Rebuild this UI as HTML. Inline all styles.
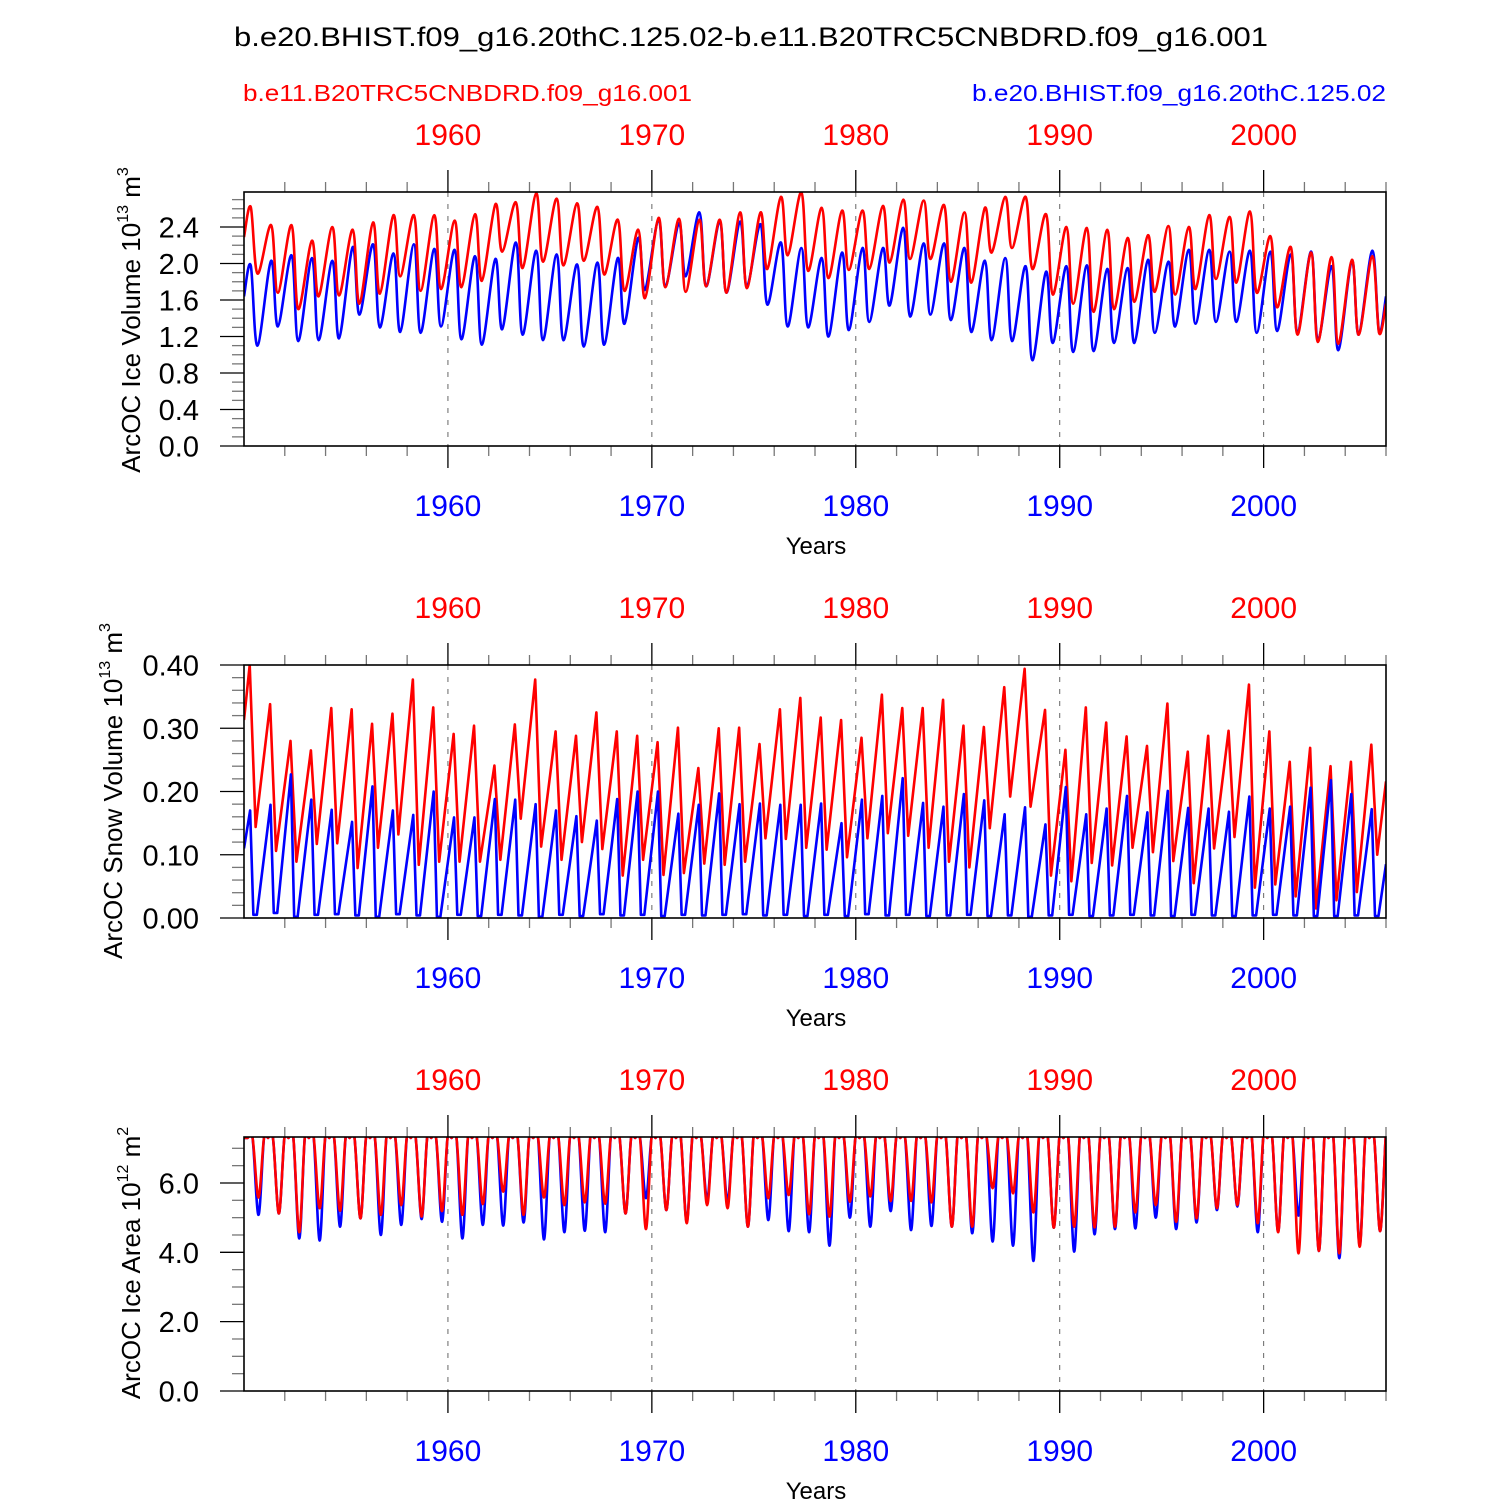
<!DOCTYPE html>
<html><head><meta charset="utf-8"><style>
html,body{margin:0;padding:0;background:#fff;}
svg{display:block;font-family:"Liberation Sans",Arial,sans-serif;}
</style></head><body>
<svg id="chart" width="1500" height="1500" viewBox="0 0 1500 1500" xmlns="http://www.w3.org/2000/svg">
<rect width="1500" height="1500" fill="#fff"/>
<text x="234" y="46" font-size="27" textLength="1034" lengthAdjust="spacingAndGlyphs">b.e20.BHIST.f09_g16.20thC.125.02-b.e11.B20TRC5CNBDRD.f09_g16.001</text>
<text x="243" y="101" font-size="23" fill="#ff0000" textLength="449" lengthAdjust="spacingAndGlyphs">b.e11.B20TRC5CNBDRD.f09_g16.001</text>
<text x="972" y="101" font-size="23" fill="#0000ff" textLength="414" lengthAdjust="spacingAndGlyphs">b.e20.BHIST.f09_g16.20thC.125.02</text>
<g id="panels"></g>
</svg>
<script>
// ---- data (yearly peak / trough values, 1950..2005) ----
const firstYear = 1950;
const lastYear = 2006;
const xMajorTicks = [1960, 1970, 1980, 1990, 2000];

const volRedPeak = [2.62,2.42,2.42,2.25,2.40,2.37,2.45,2.53,2.53,2.53,2.47,2.54,2.65,2.67,2.77,2.71,2.66,2.62,2.48,2.37,2.50,2.49,2.48,2.48,2.56,2.56,2.73,2.78,
2.61,2.58,2.58,2.63,2.70,2.69,2.64,2.56,2.61,2.73,2.73,2.54,2.40,2.39,2.37,2.28,2.31,2.41,2.40,2.53,2.51,2.57,2.30,2.18,2.12,2.07,2.04,2.08];
const volRedTrough = [1.89,1.68,1.50,1.64,1.65,1.56,1.67,1.86,1.70,1.72,1.74,1.81,2.13,1.95,2.02,1.98,2.03,1.88,1.70,1.62,1.74,1.69,1.75,1.68,1.73,1.94,2.09,1.92,
1.84,1.93,1.94,2.01,2.05,2.05,1.80,1.79,2.12,2.17,1.94,1.66,1.56,1.47,1.50,1.58,1.69,1.66,1.72,1.83,1.79,1.68,1.52,1.22,1.14,1.12,1.22,1.24];
const volBluePeak = [1.98,2.03,2.09,2.06,2.03,2.18,2.21,2.11,2.21,2.16,2.15,2.08,2.05,2.23,2.14,2.10,1.99,2.01,2.06,2.28,2.48,2.44,2.56,2.46,2.46,2.43,2.23,2.17,
2.06,2.12,2.17,2.17,2.39,2.22,2.22,2.17,2.03,2.06,1.97,1.91,1.97,1.98,1.94,1.95,2.04,2.02,2.15,2.15,2.13,2.14,2.13,2.10,2.13,1.97,2.03,2.14];
const volBlueTrough = [1.10,1.31,1.15,1.16,1.18,1.44,1.30,1.25,1.24,1.31,1.17,1.11,1.28,1.22,1.16,1.16,1.09,1.11,1.34,1.71,1.75,1.86,1.75,1.68,1.75,1.55,1.31,1.30,
1.20,1.27,1.36,1.54,1.42,1.44,1.38,1.25,1.16,1.15,0.94,1.13,1.03,1.04,1.13,1.13,1.24,1.31,1.34,1.36,1.36,1.24,1.26,1.24,1.16,1.05,1.22,1.25];
const volEnds = {redStart: 2.29, redEnd: 1.56, blueStart: 1.64, blueEnd: 1.64};

const snowRedPeak = [0.400,0.338,0.280,0.265,0.332,0.330,0.307,0.323,0.377,0.333,0.291,0.304,0.241,0.306,0.377,0.295,0.288,0.325,0.295,0.288,0.278,0.301,0.237,0.300,0.301,0.275,0.330,0.348,
0.317,0.313,0.285,0.353,0.332,0.332,0.345,0.304,0.302,0.365,0.394,0.329,0.266,0.333,0.309,0.287,0.272,0.339,0.263,0.288,0.296,0.369,0.295,0.247,0.269,0.240,0.247,0.274];
const snowRedTrough = [0.144,0.106,0.089,0.117,0.118,0.079,0.111,0.132,0.084,0.089,0.089,0.089,0.092,0.157,0.113,0.092,0.120,0.109,0.067,0.092,0.068,0.071,0.086,0.084,0.089,0.126,0.125,0.111,
0.108,0.096,0.126,0.134,0.130,0.111,0.089,0.080,0.142,0.192,0.176,0.067,0.058,0.087,0.083,0.111,0.104,0.090,0.055,0.110,0.128,0.048,0.053,0.034,0.015,0.028,0.041,0.100];
const snowBluePeak = [0.170,0.179,0.227,0.187,0.171,0.152,0.208,0.170,0.163,0.200,0.159,0.159,0.188,0.187,0.180,0.170,0.161,0.154,0.188,0.200,0.200,0.165,0.179,0.197,0.180,0.181,0.179,0.179,
0.181,0.150,0.187,0.193,0.221,0.182,0.176,0.196,0.186,0.164,0.175,0.148,0.207,0.164,0.173,0.193,0.167,0.201,0.174,0.173,0.168,0.192,0.173,0.176,0.206,0.218,0.196,0.172];
const snowBlueTrough = [0.005,0.008,0.002,0.005,0.006,0.004,0.002,0.006,0.004,0.002,0.005,0.003,0.005,0.004,0.002,0.005,0.003,0.006,0.004,0.005,0.003,0.005,0.004,0.005,0.006,0.004,0.005,0.003,
0.005,0.003,0.006,0.004,0.005,0.003,0.004,0.005,0.003,0.004,0.002,0.004,0.005,0.003,0.004,0.005,0.004,0.003,0.005,0.004,0.003,0.004,0.005,0.004,0.003,0.003,0.004,0.003];
const snowEnds = {redStart: 0.313, redEnd: 0.216, blueStart: 0.110, blueEnd: 0.085};

const areaPeak = [7.30,7.30,7.30,7.30,7.30,7.30,7.30,7.30,7.30,7.30,7.30,7.30,7.30,7.30,7.30,7.30,7.30,7.30,7.30,7.30,7.30,7.30,7.30,7.30,7.30,7.30,7.30,7.30,
7.30,7.30,7.30,7.30,7.30,7.30,7.30,7.30,7.30,7.30,7.30,7.30,7.30,7.30,7.30,7.30,7.30,7.30,7.30,7.30,7.30,7.30,7.30,7.30,7.30,7.30,7.30,7.30];
const areaBlueTrough = [5.08,5.12,4.40,4.34,4.74,4.98,4.50,4.79,4.96,4.88,4.40,4.79,4.77,4.86,4.37,4.58,4.62,4.58,5.12,5.56,5.22,4.88,5.51,5.46,4.74,4.93,4.61,4.58,
4.19,5.00,4.74,5.19,4.64,4.76,4.74,4.55,4.31,4.19,3.75,4.71,4.02,4.52,4.67,4.69,5.00,4.67,4.86,5.22,5.32,4.58,4.60,5.06,4.04,3.83,4.21,4.61];
const areaRedTrough = [5.58,5.12,4.58,5.27,5.20,4.98,5.08,5.36,5.03,5.19,5.08,5.39,5.75,5.08,5.58,5.36,5.44,5.40,5.12,4.67,5.22,4.84,5.36,5.27,4.74,5.56,5.65,5.10,
5.03,5.46,5.61,5.48,5.48,5.44,4.74,4.74,5.85,5.70,5.15,4.71,4.74,4.72,4.74,5.15,5.36,4.88,4.98,5.27,5.36,4.84,4.58,3.97,4.04,3.97,4.16,4.61];

// ---- layout ----
const X0 = 244, X1 = 1386;
function xScale(t){ return X0 + (t - firstYear) * (X1 - X0) / (lastYear - firstYear); }
const svgNS = "http://www.w3.org/2000/svg";
const root = document.getElementById('panels');
function mk(tag, attrs, parent){
  const e = document.createElementNS(svgNS, tag);
  for (const k in attrs) e.setAttribute(k, attrs[k]);
  (parent || root).appendChild(e);
  return e;
}
function catmull(pts){
  let d = "M" + pts[0][0].toFixed(2) + "," + pts[0][1].toFixed(2);
  for (let i = 0; i < pts.length - 1; i++){
    const p0 = pts[Math.max(0,i-1)], p1 = pts[i], p2 = pts[i+1], p3 = pts[Math.min(pts.length-1,i+2)];
    const c1x = p1[0] + (p2[0]-p0[0])/6, c1y = p1[1] + (p2[1]-p0[1])/6;
    const c2x = p2[0] - (p3[0]-p1[0])/6, c2y = p2[1] - (p3[1]-p1[1])/6;
    d += "C" + c1x.toFixed(2)+","+c1y.toFixed(2)+" "+c2x.toFixed(2)+","+c2y.toFixed(2)+" "+p2[0].toFixed(2)+","+p2[1].toFixed(2);
  }
  return d;
}
function linear(pts){
  return pts.map((p,i)=>(i?"L":"M")+p[0].toFixed(2)+","+p[1].toFixed(2)).join("");
}

function drawPanel(cfg){
  const yScale = v => cfg.bottom - (v - cfg.ymin) * (cfg.bottom - cfg.top) / (cfg.ymax - cfg.ymin);
  const g = mk('g', {});
  
  
  const clipId = cfg.name + '-clip';
  const cp = mk('clipPath', {id: clipId}, g);
  mk('rect', {x: X0, y: cfg.top, width: X1 - X0, height: cfg.bottom - cfg.top}, cp);
  xMajorTicks.forEach(yr => {
    const l = mk('line', {x1: xScale(yr), x2: xScale(yr), y1: cfg.top, y2: cfg.bottom, stroke: '#666', 'stroke-width': 1, 'stroke-dasharray': '5,7'}, g);
    
    
  });
  for (let yr = 1952; yr <= 2006; yr += 2){
    const major = yr % 10 === 0;
    const len = major ? 22 : 10;
    const x = xScale(yr);
    mk('line', {x1: x, x2: x, y1: cfg.top, y2: cfg.top - len, stroke: major ? '#000' : '#777', 'stroke-width': 1.3}, g);
    mk('line', {x1: x, x2: x, y1: cfg.bottom, y2: cfg.bottom + len, stroke: major ? '#000' : '#777', 'stroke-width': 1.3}, g);
  }
  const nMinor = Math.round((cfg.ymax - cfg.ymin) / cfg.minor);
  for (let i = 0; i <= nMinor; i++){
    const v = cfg.ymin + i * cfg.minor;
    if (v > cfg.ymax + 1e-9) break;
    const isMajor = Math.abs(v / cfg.major - Math.round(v / cfg.major)) < 1e-6;
    const y = yScale(v);
    mk('line', {x1: X0, x2: X0 - (isMajor ? 24 : 12), y1: y, y2: y, stroke: isMajor ? '#000' : '#777', 'stroke-width': 1.3}, g);
    if (isMajor){
      const t = mk('text', {x: 199, y: y + 10.5, 'font-size': 29, 'text-anchor': 'end'}, g);
      
      
      t.textContent = v.toFixed(cfg.digits);
    }
  }
  xMajorTicks.forEach(yr => {
    const t1 = mk('text', {x: xScale(yr), y: cfg.top - 47, 'font-size': 30, 'text-anchor': 'middle', fill: '#ff0000'}, g);
    
    
    t1.textContent = yr;
    const t2 = mk('text', {x: xScale(yr), y: cfg.bottom + 70, 'font-size': 30, 'text-anchor': 'middle', fill: '#0000ff'}, g);
    
    
    t2.textContent = yr;
  });
  const xt = mk('text', {x: 816, y: cfg.bottom + 108, 'font-size': 24, 'text-anchor': 'middle'}, g);
  
  
  xt.textContent = 'Years';
  const yt = mk('text', {transform: 'translate(' + cfg.titleX + ',' + cfg.titleY + ') rotate(-90)', 'font-size': 26, 'text-anchor': 'middle'}, g);
  
  
  const a = mk('tspan', {}, yt); a.textContent = cfg.title + ' 10';
  const b = mk('tspan', {dy: -12, 'font-size': 16}, yt); b.textContent = cfg.exp;
  const c = mk('tspan', {dy: 12}, yt); c.textContent = ' m';
  const d = mk('tspan', {dy: -12, 'font-size': 16}, yt); d.textContent = cfg.unitExp;
  cfg.series.forEach(s => {
    const pts = s.anchors().map(p => [xScale(p[0]), yScale(p[1])]);
    const path = mk('path', {d: s.smooth ? catmull(pts) : linear(pts), fill: 'none', stroke: s.color, 'stroke-width': 2.6, 'stroke-linejoin': 'round', 'clip-path': 'url(#' + clipId + ')'}, g);
    
    
  });
  const fr = mk('rect', {x: X0, y: cfg.top, width: X1 - X0, height: cfg.bottom - cfg.top, fill: 'none', stroke: '#000', 'stroke-width': 1.6}, g);
  
  
}

function volAnchors(peak, trough, start, end){
  const a = [[firstYear, start]];
  for (let i = 0; i < peak.length; i++){
    const y = firstYear + i;
    a.push([y + 0.33, peak[i]]);
    a.push([y + 0.66, trough[i]]);
  }
  a.push([lastYear, end]);
  return a;
}
function snowRedAnchors(){
  const a = [[firstYear, snowEnds.redStart]];
  for (let i = 0; i < snowRedPeak.length; i++){
    const y = firstYear + i;
    a.push([y + 0.28, snowRedPeak[i]]);
    a.push([y + 0.57, snowRedTrough[i]]);
  }
  a.push([lastYear, snowEnds.redEnd]);
  return a;
}
function snowBlueAnchors(){
  const a = [[firstYear, snowEnds.blueStart]];
  for (let i = 0; i < snowBluePeak.length; i++){
    const y = firstYear + i;
    a.push([y + 0.30, snowBluePeak[i]]);
    a.push([y + 0.46, snowBlueTrough[i]]);
    a.push([y + 0.63, snowBlueTrough[i]]);
  }
  a.push([lastYear, snowEnds.blueEnd]);
  return a;
}
function areaAnchors(trough){
  const a = [[firstYear, areaPeak[0]]];
  for (let i = 0; i < trough.length; i++){
    const y = firstYear + i;
    a.push([y + 0.18, areaPeak[i]]);
    a.push([y + 0.42, areaPeak[i]]);
    a.push([y + 0.71, trough[i]]);
    a.push([y + 0.98, areaPeak[i]]);
  }
  a.push([lastYear, areaPeak[areaPeak.length - 1]]);
  return a;
}

drawPanel({name: 'ice-volume-panel', top: 192, bottom: 446, ymin: 0, ymax: 254/91.25, major: 0.4, minor: 0.1, digits: 1,
  title: 'ArcOC Ice Volume', exp: '13', unitExp: '3', titleX: 140, titleY: 320,
  series: [
    {name: 'ice-volume-blue-line', color: '#0000ff', smooth: true, anchors: () => volAnchors(volBluePeak, volBlueTrough, volEnds.blueStart, volEnds.blueEnd)},
    {name: 'ice-volume-red-line', color: '#ff0000', smooth: true, anchors: () => volAnchors(volRedPeak, volRedTrough, volEnds.redStart, volEnds.redEnd)}
  ]});
drawPanel({name: 'snow-volume-panel', top: 665, bottom: 918, ymin: 0, ymax: 0.40, major: 0.1, minor: 0.02, digits: 2,
  title: 'ArcOC Snow Volume', exp: '13', unitExp: '3', titleX: 122, titleY: 791,
  series: [
    {name: 'snow-volume-red-line', color: '#ff0000', smooth: false, anchors: snowRedAnchors},
    {name: 'snow-volume-blue-line', color: '#0000ff', smooth: false, anchors: snowBlueAnchors}
  ]});
drawPanel({name: 'ice-area-panel', top: 1137, bottom: 1391, ymin: 0, ymax: 254/34.67, major: 2, minor: 0.5, digits: 1,
  title: 'ArcOC Ice Area', exp: '12', unitExp: '2', titleX: 140, titleY: 1263,
  series: [
    {name: 'ice-area-blue-line', color: '#0000ff', smooth: true, anchors: () => areaAnchors(areaBlueTrough)},
    {name: 'ice-area-red-line', color: '#ff0000', smooth: true, anchors: () => areaAnchors(areaRedTrough)}
  ]});
</script>
</body></html>
